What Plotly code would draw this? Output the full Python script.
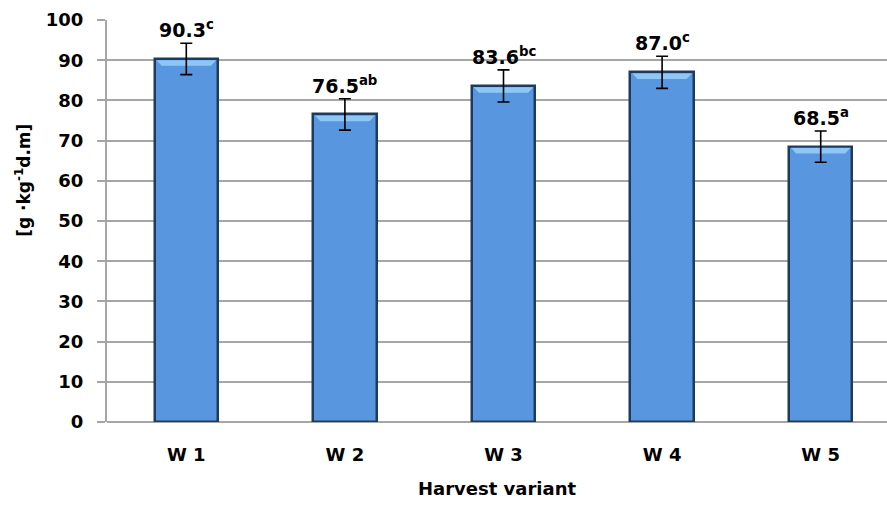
import plotly.graph_objects as go

# Harvest variants and mean content with standard error
categories = ["W 1", "W 2", "W 3", "W 4", "W 5"]
values = [90.3, 76.5, 83.6, 87.0, 68.5]
errors = [3.9, 3.9, 4.0, 4.0, 3.9]
letters = ["c", "ab", "bc", "c", "a"]
y_ticks = [0, 10, 20, 30, 40, 50, 60, 70, 80, 90, 100]

FONT = "DejaVu Sans"
BAR_FILL = "#5896DF"
BAR_EDGE = "#1E3A5C"
BEVEL = "#8EC6F6"
GRID = "#A6A6A6"
HALF_W = 0.2  # half bar width in category units

xs = list(range(len(categories)))

fig = go.Figure()

fig.add_trace(go.Bar(
    x=xs, y=values, width=2 * HALF_W,
    marker=dict(color=BAR_FILL, line=dict(color=BAR_EDGE, width=2.5)),
    hoverinfo="skip", showlegend=False,
))

# light bevel along the top edge of each bar
bev_dx, bev_dy = 0.045, 1.7
for x, v in zip(xs, values):
    fig.add_trace(go.Scatter(
        x=[x - HALF_W + 0.012, x + HALF_W - 0.012, x + HALF_W - bev_dx, x - HALF_W + bev_dx, x - HALF_W + 0.012],
        y=[v - 0.3, v - 0.3, v - bev_dy, v - bev_dy, v - 0.3],
        mode="lines", fill="toself", fillcolor=BEVEL,
        line=dict(width=0), hoverinfo="skip", showlegend=False,
    ))

# error bars drawn above bars and bevels
fig.add_trace(go.Scatter(
    x=xs, y=values, mode="markers", marker=dict(size=0.1, color="rgba(0,0,0,0)"),
    error_y=dict(type="data", array=errors, visible=True, color="black", thickness=1.6, width=6),
    hoverinfo="skip", showlegend=False,
))

# value labels with significance letters
for x, v, e, l in zip(xs, values, errors, letters):
    fig.add_annotation(
        x=x, y=v + e, xref="x", yref="y", yanchor="bottom", yshift=0,
        text=f"<b>{v:.1f}<sup>{l}</sup></b>", showarrow=False,
        font=dict(family=FONT, size=19, color="black"),
    )

fig.add_annotation(
    x=(23 - 107) / (887 - 107), xref="paper", y=0.6, yref="paper",
    xanchor="center", yanchor="middle",
    text="<b>[g ·kg<sup>-1</sup>d.m]</b>", textangle=-90, showarrow=False,
    font=dict(family=FONT, size=17, color="black"),
)

fig.update_layout(
    width=887, height=506,
    margin=dict(l=107, r=0, t=20, b=84),
    paper_bgcolor="white", plot_bgcolor="white",
    bargap=0,
    xaxis=dict(
        range=[-0.5, 4.418], tickvals=xs, ticktext=[f"<b>{c}</b>" for c in categories],
        showgrid=False, showline=False, zeroline=False, ticks="",
        tickfont=dict(family=FONT, size=18, color="black"), ticklabelstandoff=20,
        title=dict(text="<b>Harvest variant</b>", font=dict(family=FONT, size=18, color="black"), standoff=18),
    ),
    yaxis=dict(
        range=[0, 100], tickvals=y_ticks, ticktext=[f"<b>{t}</b>" for t in y_ticks],
        showgrid=True, gridcolor=GRID, gridwidth=2,
        showline=True, linecolor=GRID, linewidth=2,
        zeroline=True, zerolinecolor=GRID, zerolinewidth=2,
        ticks="outside", ticklen=8, tickcolor=GRID, tickwidth=2,
        tickfont=dict(family=FONT, size=18, color="black"), ticklabelstandoff=10,
    ),
)

fig.write_html("out.html")
